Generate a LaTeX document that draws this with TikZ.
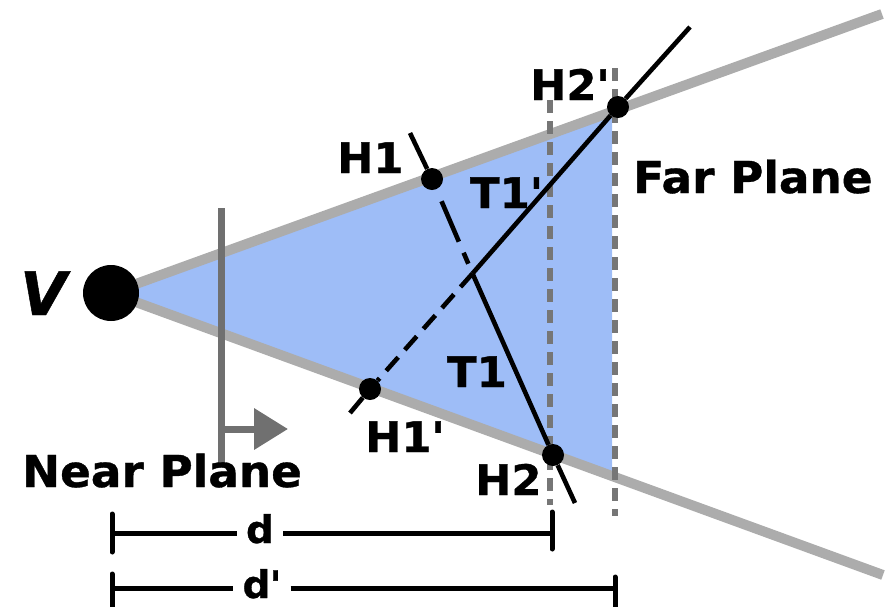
\documentclass[tikz,border=0pt]{standalone}
\usepackage{fontspec}
\newfontfamily\lab{DejaVu Sans}[BoldFeatures={FakeBold=0.8,FakeStretch=1.03},BoldItalicFeatures={FakeBold=0.8}]
\usetikzlibrary{arrows.meta}
\definecolor{frgray}{RGB}{172,172,172}
\definecolor{npgray}{RGB}{112,112,112}
\definecolor{dsgray}{RGB}{118,118,118}
\definecolor{frblue}{RGB}{158,189,247}
\newcommand\prm{\symbol{39}}
\begin{document}
\begin{tikzpicture}[x=1pt,y=-1pt,
  frust/.style={line width=10pt,draw=frgray},
  blk/.style={line width=4.6pt,draw=black},
  farline/.style={line width=6pt,draw=dsgray,dash pattern=on 13pt off 8pt},
  npline/.style={line width=7pt,draw=npgray},
  dot/.style={circle,fill=black,inner sep=0pt,minimum size=22pt},
  lbl/.style={font=\lab\bfseries\fontsize{42}{42}\selectfont,inner sep=0pt},
  biglbl/.style={font=\lab\bfseries\fontsize{44}{44}\selectfont,inner sep=0pt},
  dlbl/.style={font=\lab\bfseries\fontsize{38}{38}\selectfont,inner xsep=9pt,inner ysep=0pt},
  dimbar/.style={line width=5pt,draw=black},
  dimtick/.style={line width=5pt,draw=black,line cap=round}]
\useasboundingbox (0,0) rectangle (891,606);
% coordinates
\coordinate (Vc) at (111,293);
\coordinate (upEnd) at (882,14);
\coordinate (loEnd) at (883,575);
\coordinate (bUp) at (612,111.5);
\coordinate (bLo) at (612,476);
\coordinate (K) at (472.5,273.5);
\coordinate (t1top) at (410,133);
\coordinate (t1bot) at (575,503);
\coordinate (t2top) at (690,27);
\coordinate (t2bot) at (350,413);
% blue frustum
\fill[frblue] (Vc) -- (bUp) -- (bLo) -- cycle;
% frustum edges
\draw[frust] (Vc) -- (upEnd);
\draw[frust] (Vc) -- (loEnd);
% eye point
\node[circle,fill=black,inner sep=0pt,minimum size=56pt] (V) at (Vc) {};
\node[font=\lab\bfseries\itshape\fontsize{60}{60}\selectfont,inner sep=0pt,anchor=base west] (Vlab) at (20,315) {V};
% vertical dashed lines
\coordinate (dA1) at (550,100);
\coordinate (dA2) at (550,505);
\coordinate (dB1) at (615,68);
\coordinate (dB2) at (615,516);
\draw[farline] (dA1) -- (dA2);
\draw[farline] (dB1) -- (dB2);
% near plane
\coordinate (np1) at (221,208);
\coordinate (np2) at (221,465);
\coordinate (npa) at (221,429);
\coordinate (npt) at (288,429);
\draw[npline] (np1) -- (np2);
\draw[npline,-{Triangle[length=34pt,width=40pt]}] (npa) -- (npt);
% hit points
\node[dot] (H1) at (432,179) {};
\node[dot] (H2p) at (618,107) {};
\node[dot] (H1p) at (370,389) {};
\node[dot] (H2) at (553,455) {};
% ray T1
\draw[blk] (t1top) -- (H1);
\draw[blk,dash pattern=on 44pt off 12pt on 12pt off 30pt,dash phase=85pt] (H1) -- (K);
\draw[blk] (K) -- (H2) -- (t1bot);
% ray T1'
\draw[blk] (t2top) -- (H2p) -- (K);
\draw[blk,dash pattern=on 18pt off 10pt] (K) -- (H1p);
\draw[blk] (H1p) -- (t2bot);
% labels
\node[lbl,anchor=base west] (lH1) at (337,173) {H1};
\node[lbl,anchor=base west] (lH2p) at (530,100) {H2\prm};
\node[lbl,anchor=base west] (lT1p) at (470,208) {T1\prm};
\node[lbl,anchor=base west] (lT1) at (447,387) {T1};
\node[lbl,anchor=base west] (lH1p) at (365,452) {H1\prm};
\node[lbl,anchor=base west] (lH2) at (475,495) {H2};
\node[biglbl,anchor=base west] (lFar) at (633,193) {Far Plane};
\node[biglbl,anchor=base west] (lNear) at (22,487) {Near Plane};
% dimensions
\coordinate (dL) at (112,533);
\coordinate (dR) at (552,533);
\coordinate (dpL) at (112,588);
\coordinate (dpR) at (615,588);
\node[dlbl,anchor=base] (ld) at (260,543) {d};
\node[dlbl,anchor=base] (ldp) at (262,598) {d\kern-1pt\prm};
\draw[dimbar] (dL) -- (dL -| ld.west);
\draw[dimbar] (dR -| ld.east) -- (dR);
\draw[dimbar] (dpL) -- (dpL -| ldp.west);
\draw[dimbar] (dpR -| ldp.east) -- (dpR);
\draw[dimtick] ([yshift=-19pt]dL) -- ([yshift=19pt]dL);
\draw[dimtick] ([yshift=-16pt]dR) -- ([yshift=21pt]dR);
\draw[dimtick] ([yshift=-19pt]dpL) -- ([yshift=14pt]dpL);
\draw[dimtick] ([yshift=-20pt]dpR) -- ([yshift=11pt]dpR);
\end{tikzpicture}
\end{document}
